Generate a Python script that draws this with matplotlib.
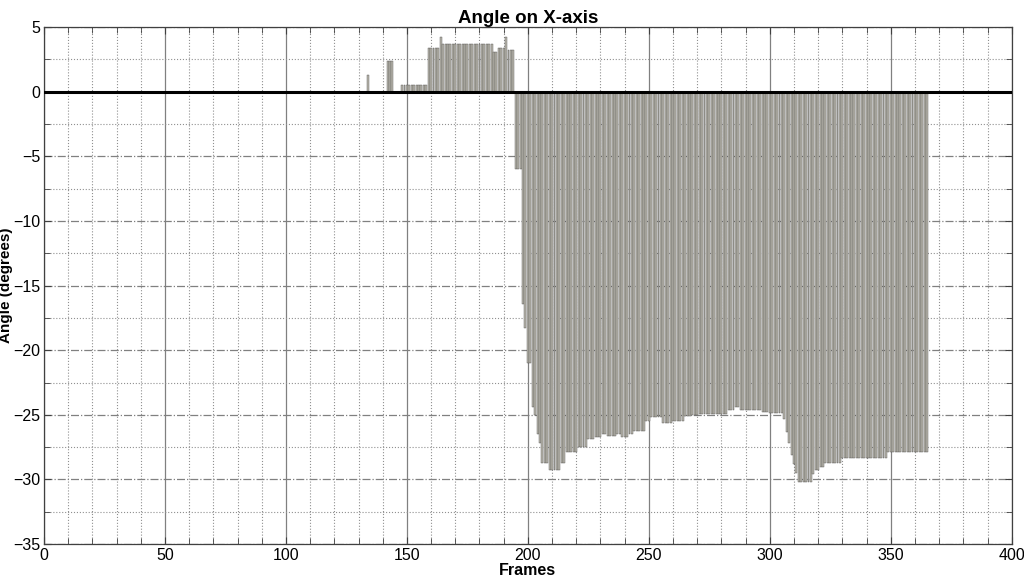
import numpy as np
import matplotlib
matplotlib.use("Agg")
import matplotlib.pyplot as plt
from matplotlib.ticker import MultipleLocator

plt.rcParams['font.family'] = ['Liberation Sans', 'DejaVu Sans']

# runs of equal values: first frame, last frame, angle
seg_start = [134, 142, 148, 159, 164, 165, 186, 188, 191, 192,
             195, 198, 199, 200, 202, 203, 204, 205, 206, 209,
             214, 216, 221, 225, 228, 231, 233, 237, 239, 242,
             244, 249, 251, 256, 260, 265, 268, 271, 283, 286,
             288, 297, 300, 306, 307, 308, 309, 310, 311, 312,
             318, 319, 321, 323, 330, 349]
seg_end = [134, 144, 158, 163, 164, 185, 187, 190, 191, 194,
           197, 198, 199, 201, 202, 203, 204, 205, 208, 213,
           215, 220, 224, 227, 230, 232, 236, 238, 241, 243,
           248, 250, 255, 259, 264, 267, 270, 282, 285, 287,
           296, 299, 305, 306, 307, 308, 309, 310, 311, 317,
           318, 320, 322, 329, 348, 365]
seg_value = [1.3, 2.4, 0.5, 3.42, 4.2, 3.7, 3.05, 3.37, 4.2, 3.22,
             -6.0, -16.4, -18.3, -21.0, -24.4, -25.0, -26.5, -27.2, -28.7, -29.3,
             -28.75, -27.9, -27.5, -26.9, -26.75, -26.5, -26.6, -26.5, -26.7, -26.45,
             -26.25, -25.5, -25.2, -25.6, -25.5, -25.1, -25.0, -24.95, -24.6, -24.4,
             -24.6, -24.8, -24.85, -25.3, -26.3, -27.2, -28.1, -28.8, -29.5, -30.2,
             -29.6, -29.3, -29.0, -28.7, -28.3, -27.85]

frames = []
angles = []
for s, e, v in zip(seg_start, seg_end, seg_value):
    for f in range(s, e + 1):
        frames.append(f)
        angles.append(v)

fig = plt.figure(figsize=(10.24, 5.77), dpi=100)
ax = fig.add_axes([0.043, 0.057, 0.945, 0.896])

ax.bar(frames, angles, width=0.8, color='#bbb9ae', edgecolor='#484848',
       linewidth=0.28, zorder=2)
ax.axhline(0, color='k', lw=2.2, zorder=3)

ax.set_xlim(0, 400)
ax.set_ylim(-35, 5)
ax.xaxis.set_major_locator(MultipleLocator(50))
ax.xaxis.set_minor_locator(MultipleLocator(10))
ax.yaxis.set_major_locator(MultipleLocator(5))
ax.yaxis.set_minor_locator(MultipleLocator(2.5))

ax.set_axisbelow(True)
ax.grid(which='major', axis='x', ls='-', color='#808080', lw=0.9)
ax.grid(which='minor', axis='x', ls=':', color='#909090', lw=0.8)
ax.grid(which='major', axis='y', ls='-.', color='#808080', lw=0.9)
ax.grid(which='minor', axis='y', ls=':', color='#909090', lw=0.8)

ax.tick_params(which='both', direction='in', top=True, right=True,
               labelsize=11.5, color='#404040')
ax.tick_params(axis='x', pad=2.5)
ax.tick_params(axis='y', pad=2.5)
ax.tick_params(which='major', length=5)
ax.tick_params(which='minor', length=4)
for sp in ax.spines.values():
    sp.set_color('#404040')
    sp.set_linewidth(0.9)

ax.set_title("Angle on X-axis", fontsize=13.5, fontweight='bold', pad=3)
ax.set_xlabel("Frames", fontsize=11.5, fontweight='bold', labelpad=0)
ax.set_ylabel("Angle (degrees)", fontsize=11, fontweight='bold', labelpad=0)

fig.savefig("out.png", dpi=100)
